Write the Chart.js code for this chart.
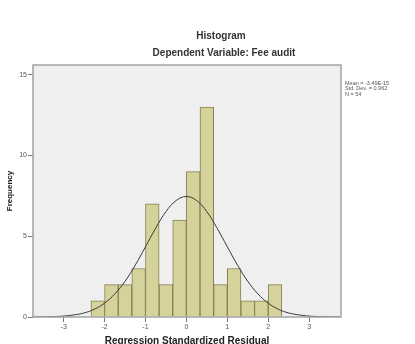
<!DOCTYPE html>
<html>
<head>
<meta charset="utf-8">
<script src="https://cdn.jsdelivr.net/npm/chart.js@4/dist/chart.umd.min.js"></script>
<style>
  html, body { margin: 0; padding: 0; background: #ffffff; }
  #wrap { width: 415px; height: 344px; position: relative; }
</style>
</head>
<body>
<div id="wrap"><canvas id="c" width="415" height="344"></canvas></div>
<script>
// ---- data ----
const binCenters = [-2.1667, -1.8333, -1.5, -1.1667, -0.8333, -0.5, -0.1667, 0.1667, 0.5, 0.8333, 1.1667, 1.5, 1.8333, 2.1667];
const frequencies = [1, 2, 2, 3, 7, 2, 6, 9, 13, 2, 3, 1, 1, 2];
const curveX = [-3.75, -3.5, -3.25, -3, -2.75, -2.5, -2.25, -2, -1.75, -1.5, -1.25, -1, -0.75, -0.5, -0.25, 0, 0.25, 0.5, 0.75, 1, 1.25, 1.5, 1.75, 2, 2.25, 2.5, 2.75, 3, 3.25, 3.5, 3.75];
const curveY = [0.004, 0.01, 0.025, 0.058, 0.13, 0.25, 0.48, 0.86, 1.43, 2.21, 3.21, 4.35, 5.50, 6.52, 7.21, 7.46, 7.21, 6.52, 5.50, 4.35, 3.21, 2.21, 1.43, 0.86, 0.48, 0.25, 0.13, 0.058, 0.025, 0.01, 0.004];
const xTicks = [-3, -2, -1, 0, 1, 2, 3];
const yTicks = [0, 5, 10, 15];
const titleText = "Histogram";
const subtitleText = "Dependent Variable: Fee audit";
const statsLines = ["Mean = -3.49E-15", "Std. Dev. = 0.962", "N = 54"];
const xTitle = "Regression Standardized Residual";
const yTitle = "Frequency";

const barData = binCenters.map((x, i) => ({ x: x, y: frequencies[i] }));
const curveData = curveX.map((x, i) => ({ x: x, y: curveY[i] }));

const frame = {
  id: 'frame',
  beforeDatasetsDraw(chart) {
    const { ctx, chartArea: a } = chart;
    ctx.save();
    ctx.fillStyle = '#efefef';
    ctx.fillRect(a.left, a.top, a.right - a.left, a.bottom - a.top);
    ctx.restore();
  },
  afterDatasetsDraw(chart) {
    const { ctx, chartArea: a } = chart;
    ctx.save();
    ctx.strokeStyle = '#a3a3a3';
    ctx.lineWidth = 1.5;
    ctx.strokeRect(a.left, a.top, a.right - a.left, a.bottom - a.top);
    ctx.restore();
  },
  afterDraw(chart) {
    const { ctx } = chart;
    ctx.save();
    ctx.fillStyle = '#333';
    ctx.textAlign = 'center';
    ctx.textBaseline = 'middle';
    ctx.font = 'bold 10px "Liberation Sans", Arial, sans-serif';
    ctx.fillText(titleText, 221, 36);
    ctx.fillText(subtitleText, 224, 53);
    ctx.textAlign = 'left';
    ctx.font = '5.5px "Liberation Sans", Arial, sans-serif';
    ctx.fillStyle = '#555';
    statsLines.forEach((s, i) => ctx.fillText(s, 345, 83 + i * 5.8));
    ctx.restore();
  }
};

new Chart(document.getElementById('c'), {
  type: 'bar',
  data: {
    datasets: [
      {
        type: 'line',
        data: curveData,
        borderColor: '#3a3a3a',
        borderWidth: 1,
        pointRadius: 0,
        tension: 0.4,
        fill: false,
        order: 0
      },
      {
        type: 'bar',
        data: barData,
        backgroundColor: '#d6d29c',
        borderColor: '#85804f',
        borderWidth: 1,
        barPercentage: 1,
        categoryPercentage: 1,
        order: 1
      }
    ]
  },
  options: {
    responsive: false,
    devicePixelRatio: 1,
    animation: false,
    layout: { padding: { left: 0, right: 74, top: 65, bottom: 0 } },
    plugins: { legend: { display: false }, tooltip: { enabled: false }, title: { display: false } },
    scales: {
      x: {
        type: 'linear',
        offset: false,
        min: -3.75,
        max: 3.78,
        afterBuildTicks: s => { s.ticks = xTicks.map(v => ({ value: v })); },
        afterFit: s => { s.height = 27; },
        grid: { offset: false, drawOnChartArea: false, drawTicks: true, tickLength: 5, color: '#777' },
        border: { display: false },
        ticks: { font: { size: 7, family: '"Liberation Sans", Arial, sans-serif' }, color: '#555', padding: 1, maxRotation: 0 },
        title: { display: true, text: xTitle, color: '#222', font: { size: 10, weight: 'bold', family: '"Liberation Sans", Arial, sans-serif' }, padding: { top: 0, bottom: -3 } }
      },
      y: {
        min: 0,
        max: 15.6,
        afterBuildTicks: s => { s.ticks = yTicks.map(v => ({ value: v })); },
        afterFit: s => { s.width = 33; },
        grid: { drawOnChartArea: false, drawTicks: true, tickLength: 5, color: '#777' },
        border: { display: false },
        ticks: { font: { size: 7, family: '"Liberation Sans", Arial, sans-serif' }, color: '#555', padding: 1 },
        title: { display: true, text: yTitle, color: '#222', font: { size: 8, weight: 'bold', family: '"Liberation Sans", Arial, sans-serif' }, padding: { top: 5, bottom: 0 } }
      }
    }
  },
  plugins: [frame]
});
</script>
</body>
</html>
